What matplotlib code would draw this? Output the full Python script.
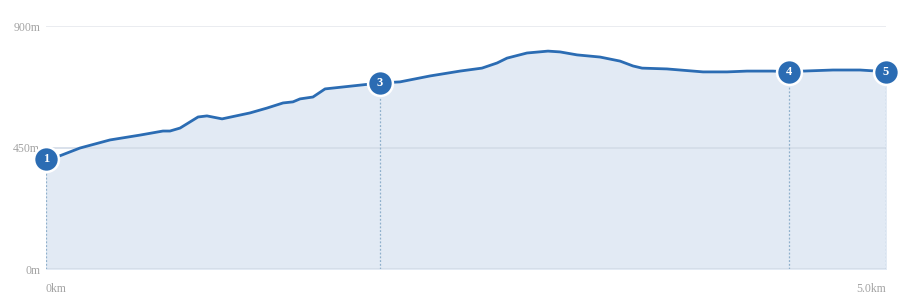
import matplotlib
matplotlib.use("Agg")
import matplotlib.pyplot as plt

# elevation profile (km, m)
dist_km = [0.0, 0.065, 0.202, 0.381, 0.560, 0.696, 0.738, 0.798, 0.905, 0.958,
           1.048, 1.214, 1.315, 1.411, 1.470, 1.512, 1.589, 1.661, 1.988, 2.107,
           2.286, 2.464, 2.595, 2.685, 2.744, 2.863, 2.988, 3.060, 3.161, 3.298,
           3.417, 3.494, 3.548, 3.696, 3.911, 4.054, 4.173, 4.327, 4.423, 4.506,
           4.685, 4.845, 4.946, 5.0]
elev_m = [407, 415, 448, 478, 496, 511, 511, 522, 563, 567,
          556, 578, 596, 615, 619, 630, 637, 667, 689, 693,
          715, 733, 744, 763, 781, 800, 807, 804, 793, 785,
          770, 752, 744, 741, 730, 730, 733, 733, 730, 733,
          737, 737, 733, 730]

# waypoint markers
wp_labels = ["1", "3", "4", "5"]
wp_km = [0.0, 1.988, 4.423, 5.0]
wp_elev = [407, 689, 730, 730]

y_ticks = [0, 450, 900]
y_tick_labels = ["0m", "450m", "900m"]

line_col = "#2b6cb3"
fill_col = "#e2eaf4"
text_col = "#a3a3a3"
serif = ["Liberation Serif", "DejaVu Serif"]

fig = plt.figure(figsize=(9, 3), dpi=100)
ax = fig.add_axes([46 / 900, 31 / 300, 840 / 900, 243 / 300])
ax.set_xlim(0, 5.0)
ax.set_ylim(0, 900)

ax.fill_between(dist_km, elev_m, 0, color=fill_col, zorder=1)
ax.axhline(900, color="#e6e9ee", lw=1.2, zorder=2)
ax.axhline(450, color="#d3dce7", lw=1.2, zorder=2)
ax.axhline(0, color="#d3dce7", lw=1.2, zorder=2)
ax.plot(dist_km, elev_m, color=line_col, lw=2.0, zorder=3,
        solid_capstyle="round", solid_joinstyle="round")

for lab, xk, ye in zip(wp_labels, wp_km, wp_elev):
    ax.plot([xk, xk], [0, ye], color="#8fb0cc", lw=0.9, ls=(0, (1.5, 1.5)), zorder=2)
    ax.scatter([xk], [ye], s=320, color=line_col, edgecolors="white", linewidths=1.8,
               zorder=5, clip_on=False)
    ax.text(xk, ye, lab, color="white", ha="center", va="center", fontsize=9,
            fontweight="bold", family=serif, zorder=6, clip_on=False)

for s in ax.spines.values():
    s.set_visible(False)
ax.set_xticks([])
ax.set_yticks([])

for v, lab in zip(y_ticks, y_tick_labels):
    ax.text(-0.035, v - 6, lab, ha="right", va="center", fontsize=8.5, color=text_col,
            family=serif)
ax.text(0.0, -75, "0km", ha="left", va="center", fontsize=8.5, color=text_col, family=serif)
ax.text(5.0, -75, "5.0km", ha="right", va="center", fontsize=8.5, color=text_col, family=serif)

fig.savefig("out.png", dpi=100)
